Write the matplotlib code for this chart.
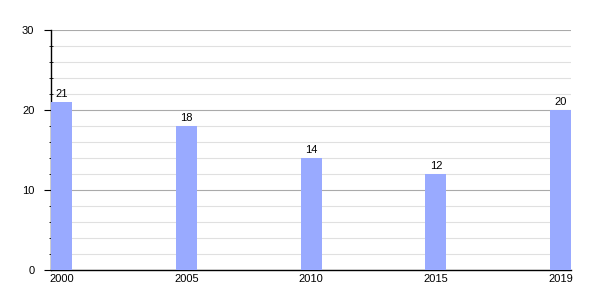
import matplotlib
matplotlib.use("Agg")
import matplotlib.pyplot as plt
from matplotlib.ticker import MultipleLocator

plt.rcParams["font.family"] = ["Liberation Sans", "DejaVu Sans"]

years = ["2000", "2005", "2010", "2015", "2019"]
values = [21, 18, 14, 12, 20]

fig = plt.figure(figsize=(6, 3), dpi=100)
ax = fig.add_axes([0.085, 0.1, 0.867, 0.8])

w = 0.168
x = list(range(len(years)))
bars = ax.bar(x, values, width=w, color="#99aaff", zorder=3)
for xi, v in zip(x, values):
    ax.text(xi, v + 0.4, str(v), ha="center", va="bottom", fontsize=8, zorder=4)

ax.set_xlim(-w / 2, len(years) - 1 + w / 2)
ax.set_ylim(0, 30)
ax.set_xticks(x)
ax.set_xticklabels(years)
ax.yaxis.set_major_locator(MultipleLocator(10))
ax.yaxis.set_minor_locator(MultipleLocator(2))
ax.grid(axis="y", which="major", color="#aaaaaa", linewidth=0.8, zorder=0)
ax.grid(axis="y", which="minor", color="#e0e0e0", linewidth=0.8, zorder=0)
for s in ["top", "right"]:
    ax.spines[s].set_visible(False)
ax.spines["left"].set_linewidth(1.0)
ax.spines["bottom"].set_linewidth(1.0)
ax.tick_params(axis="x", length=0, labelsize=8, pad=3)
ax.tick_params(axis="y", which="major", length=5, labelsize=8, pad=7)
ax.tick_params(axis="y", which="minor", length=3, direction="inout")

fig.savefig("out.png", dpi=100)
